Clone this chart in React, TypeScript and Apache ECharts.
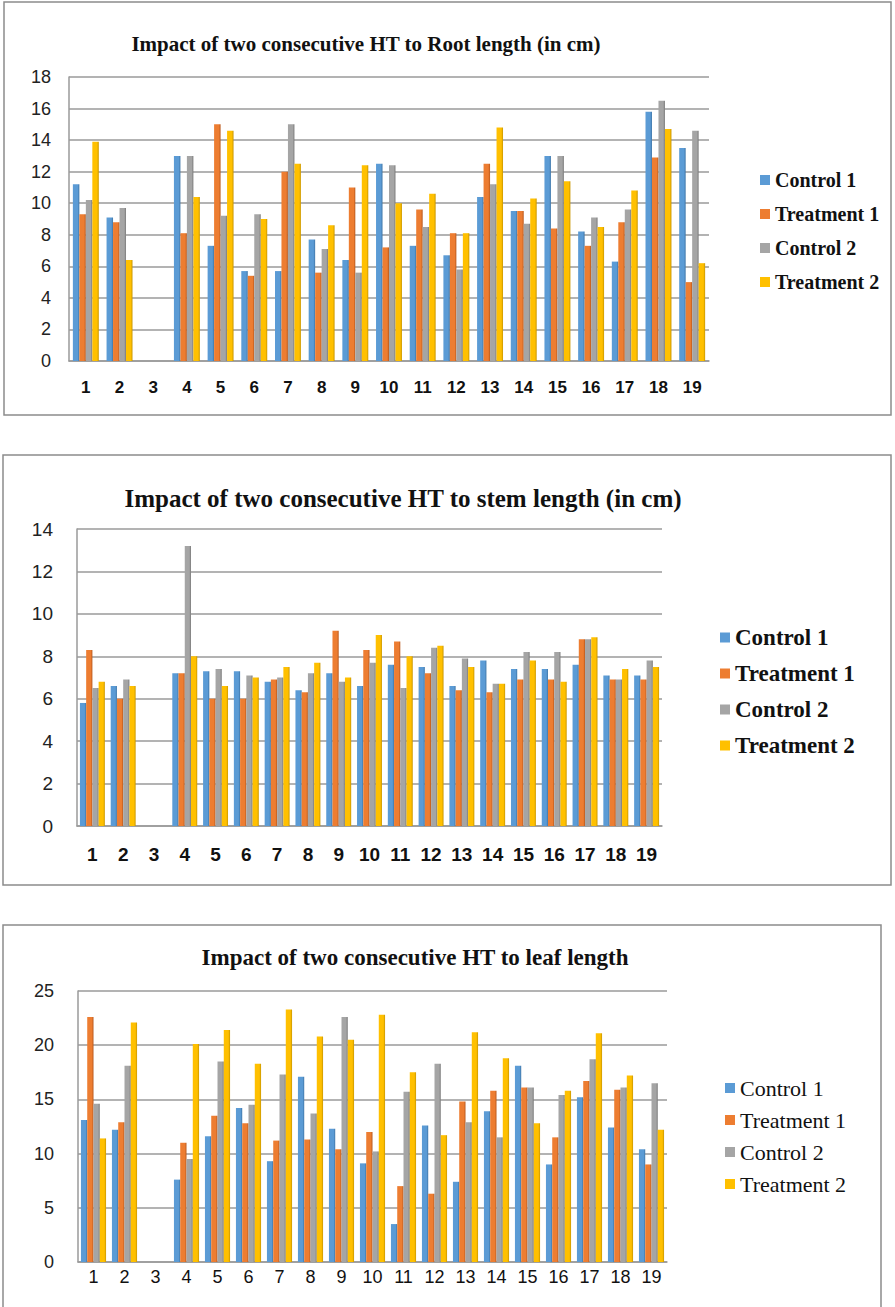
import React, { useEffect, useRef } from "react";
import * as echarts from "echarts";

// Plant numbers along the x axis
const plants = ["1", "2", "3", "4", "5", "6", "7", "8", "9", "10", "11", "12", "13", "14", "15", "16", "17", "18", "19"];
const groupNames = ["Control 1", "Treatment 1", "Control 2", "Treatment 2"];
const groupColors = ["#5B9BD5", "#ED7D31", "#A5A5A5", "#FFC000"];
const groupEdges = ["#3F76A8", "#B9581C", "#7A7A7A", "#C99600"];

// Root length (cm)
const rootControl1 = [11.2, 9.1, 0, 13.0, 7.3, 5.7, 5.7, 7.7, 6.4, 12.5, 7.3, 6.7, 10.4, 9.5, 13.0, 8.2, 6.3, 15.8, 13.5];
const rootTreatment1 = [9.3, 8.8, 0, 8.1, 15.0, 5.4, 12.0, 5.6, 11.0, 7.2, 9.6, 8.1, 12.5, 9.5, 8.4, 7.3, 8.8, 12.9, 5.0];
const rootControl2 = [10.2, 9.7, 0, 13.0, 9.2, 9.3, 15.0, 7.1, 5.6, 12.4, 8.5, 5.8, 11.2, 8.7, 13.0, 9.1, 9.6, 16.5, 14.6];
const rootTreatment2 = [13.9, 6.4, 0, 10.4, 14.6, 9.0, 12.5, 8.6, 12.4, 10.0, 10.6, 8.1, 14.8, 10.3, 11.4, 8.5, 10.8, 14.7, 6.2];

// Stem length (cm)
const stemControl1 = [5.8, 6.6, 0, 7.2, 7.3, 7.3, 6.8, 6.4, 7.2, 6.6, 7.6, 7.5, 6.6, 7.8, 7.4, 7.4, 7.6, 7.1, 7.1];
const stemTreatment1 = [8.3, 6.0, 0, 7.2, 6.0, 6.0, 6.9, 6.3, 9.2, 8.3, 8.7, 7.2, 6.4, 6.3, 6.9, 6.9, 8.8, 6.9, 6.9];
const stemControl2 = [6.5, 6.9, 0, 13.2, 7.4, 7.1, 7.0, 7.2, 6.8, 7.7, 6.5, 8.4, 7.9, 6.7, 8.2, 8.2, 8.8, 6.9, 7.8];
const stemTreatment2 = [6.8, 6.6, 0, 8.0, 6.6, 7.0, 7.5, 7.7, 7.0, 9.0, 8.0, 8.5, 7.5, 6.7, 7.8, 6.8, 8.9, 7.4, 7.5];

// Leaf length
const leafControl1 = [13.1, 12.2, 0, 7.6, 11.6, 14.2, 9.3, 17.1, 12.3, 9.1, 3.5, 12.6, 7.4, 13.9, 18.1, 9.0, 15.2, 12.4, 10.4];
const leafTreatment1 = [22.6, 12.9, 0, 11.0, 13.5, 12.8, 11.2, 11.3, 10.4, 12.0, 7.0, 6.3, 14.8, 15.8, 16.1, 11.5, 16.7, 15.9, 9.0];
const leafControl2 = [14.6, 18.1, 0, 9.5, 18.5, 14.5, 17.3, 13.7, 22.6, 10.2, 15.7, 18.3, 12.9, 11.5, 16.1, 15.4, 18.7, 16.1, 16.5];
const leafTreatment2 = [11.4, 22.1, 0, 20.1, 21.4, 18.3, 23.3, 20.8, 20.5, 22.8, 17.5, 11.7, 21.2, 18.8, 12.8, 15.8, 21.1, 17.2, 12.2];

const titles = [
  "Impact of two consecutive HT to Root length (in cm)",
  "Impact of two consecutive HT to stem length (in cm)",
  "Impact of two consecutive HT to leaf length",
];

const SERIF = "'Liberation Serif', 'Times New Roman', serif";
const SANS = "'Liberation Sans', Arial, sans-serif";

export default function App() {
  const ref = useRef<HTMLDivElement>(null);

  useEffect(() => {
    if (!ref.current) return;
    const chart = echarts.init(ref.current, null, { renderer: "svg" });

    const panels = [
      {
        data: [rootControl1, rootTreatment1, rootControl2, rootTreatment2],
        grid: { left: 69, top: 77, width: 640, height: 284 },
        yMax: 18, yStep: 2,
        yFont: 18, yMargin: 18,
        xFont: 17, xBold: true, xMargin: 18,
        gap: "23%",
        title: { x: 366, y: 44, size: 21 },
        box: { x: 4, y: 2, w: 887, h: 413 },
        legend: { left: 760, top: 170, font: 20, bold: true, lh: 20, gap: 14 },
      },
      {
        data: [stemControl1, stemTreatment1, stemControl2, stemTreatment2],
        grid: { left: 77, top: 529, width: 585, height: 297 },
        yMax: 14, yStep: 2,
        yFont: 19, yMargin: 24,
        xFont: 19, xBold: true, xMargin: 19,
        gap: "19%",
        title: { x: 403, y: 498, size: 25 },
        box: { x: 3, y: 455, w: 888, h: 430 },
        legend: { left: 720, top: 626, font: 23, bold: true, lh: 23, gap: 13 },
      },
      {
        data: [leafControl1, leafTreatment1, leafControl2, leafTreatment2],
        grid: { left: 78, top: 991, width: 589, height: 271 },
        yMax: 25, yStep: 5,
        yFont: 18, yMargin: 24,
        xFont: 18, xBold: false, xMargin: 6,
        gap: "19%",
        title: { x: 415, y: 957, size: 23 },
        box: { x: 3, y: 925, w: 878, h: 400 },
        legend: { left: 725, top: 1077, font: 22, bold: false, lh: 22, gap: 10 },
      },
    ];

    const grids: any[] = [];
    const xAxes: any[] = [];
    const yAxes: any[] = [];
    const series: any[] = [];
    const legends: any[] = [];
    const graphics: any[] = [];

    panels.forEach((p, i) => {
      grids.push({ ...p.grid, containLabel: false });
      xAxes.push({
        type: "category",
        gridIndex: i,
        data: plants,
        axisLine: { show: true, lineStyle: { color: "#9a9a9a", width: 1.5 } },
        axisTick: { show: false },
        axisLabel: {
          color: "#111",
          fontFamily: SANS,
          fontSize: p.xFont,
          fontWeight: p.xBold ? "bold" : "normal",
          margin: p.xMargin,
          interval: 0,
        },
      });
      yAxes.push({
        type: "value",
        gridIndex: i,
        min: 0,
        max: p.yMax,
        interval: p.yStep,
        axisLine: { show: true, lineStyle: { color: "#9a9a9a", width: 1.5 } },
        axisTick: { show: false },
        axisLabel: { color: "#222", fontFamily: SANS, fontSize: p.yFont, margin: p.yMargin },
        splitLine: { show: true, lineStyle: { color: "#9a9a9a", width: 1.5 } },
      });
      p.data.forEach((values, k) => {
        series.push({
          type: "bar",
          name: groupNames[k],
          xAxisIndex: i,
          yAxisIndex: i,
          data: values,
          barGap: "0%",
          barCategoryGap: p.gap,
          itemStyle: {
            color: new echarts.graphic.LinearGradient(0, 0, 1, 0, [
              { offset: 0, color: groupColors[k] },
              { offset: 0.72, color: groupColors[k] },
              { offset: 1, color: groupEdges[k] },
            ]),
          },
        });
      });
      const legendText = {
        fontFamily: SERIF,
        fontSize: p.legend.font,
        fontWeight: p.legend.bold ? "bold" : "normal",
        color: "#111",
        lineHeight: p.legend.lh,
      };
      legends.push({
        orient: "vertical",
        left: p.legend.left,
        top: p.legend.top,
        padding: 0,
        itemWidth: 10,
        itemHeight: 10,
        itemGap: p.legend.gap,
        icon: "rect",
        selectedMode: false,
        textStyle: legendText,
        data: groupNames.map((n, k) => ({
          name: n,
          itemStyle: { color: groupColors[k] },
          textStyle: legendText,
        })),
      });
      graphics.push({
        type: "rect",
        shape: { x: p.box.x, y: p.box.y, width: p.box.w, height: p.box.h },
        style: { fill: "none", stroke: "#8c8c8c", lineWidth: 1.5 },
        silent: true,
      });
      graphics.push({
        type: "text",
        x: p.title.x,
        y: p.title.y,
        style: {
          text: titles[i],
          fill: "#111",
          font: `bold ${p.title.size}px ${SERIF}`,
          textAlign: "center",
          textVerticalAlign: "middle",
        },
        silent: true,
      });
    });

    chart.setOption({
      animation: false,
      backgroundColor: "#ffffff",
      grid: grids,
      xAxis: xAxes,
      yAxis: yAxes,
      series,
      legend: legends,
      graphic: graphics,
    });

    return () => chart.dispose();
  }, []);

  return (
    <div
      ref={ref}
      style={{ position: "absolute", left: 0, top: 0, width: 895, height: 1307, background: "#fff" }}
    />
  );
}
